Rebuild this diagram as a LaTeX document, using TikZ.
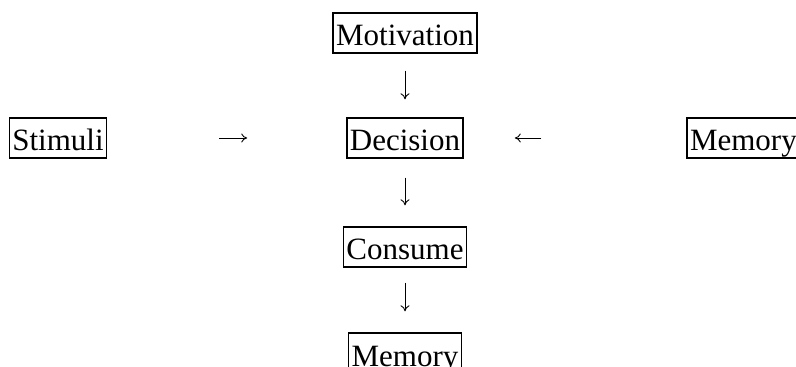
\documentclass[tikz,border=0pt]{standalone}
\usepackage{fontspec}
\setmainfont{Liberation Serif}
\usepackage{tikz}
\usetikzlibrary{arrows,arrows.meta}
\usetikzlibrary{positioning}
\tikzstyle{box} = [rectangle, draw=black, line width=0.7pt, inner xsep=1.5pt, inner ysep=1.5pt, text height=15pt, text depth=2pt, font=\fontsize{15.5}{18}\selectfont]
\tikzstyle{arrow} = [line width=0.45pt,-{To[length=3pt,width=4.5pt]}]

\begin{document}
\begin{tikzpicture}
\useasboundingbox (0,0) rectangle (398pt,-183.5pt);
\node (decision) [box] at (202.5pt,-69pt) {Decision};
\node (motivation) [box, above of=decision, node distance=52.5pt] {Motivation};
\node (consume) [box, below of=decision, node distance=54.5pt] {Consume};
\node (memorybelow) [box, below of=consume, node distance=53pt] {Memory};
\node (stimuli) [box, left of=decision, node distance=173.5pt] {Stimuli};
\node (memory) [box, right of=decision, node distance=169.2pt] {Memory};
\draw [arrow, shorten <=8.5pt, shorten >=9pt] (motivation) -- (decision);
\draw [arrow, shorten <=56pt, shorten >=49.5pt] (stimuli) -- (decision);
\draw [arrow, shorten <=72.5pt, shorten >=25.5pt] (memory) -- (decision);
\draw [arrow, shorten <=9.5pt, shorten >=10.5pt] (decision) -- (consume);
\draw [arrow, shorten <=7.5pt, shorten >=10.5pt] (consume) -- (memorybelow);
\end{tikzpicture}
\end{document}
